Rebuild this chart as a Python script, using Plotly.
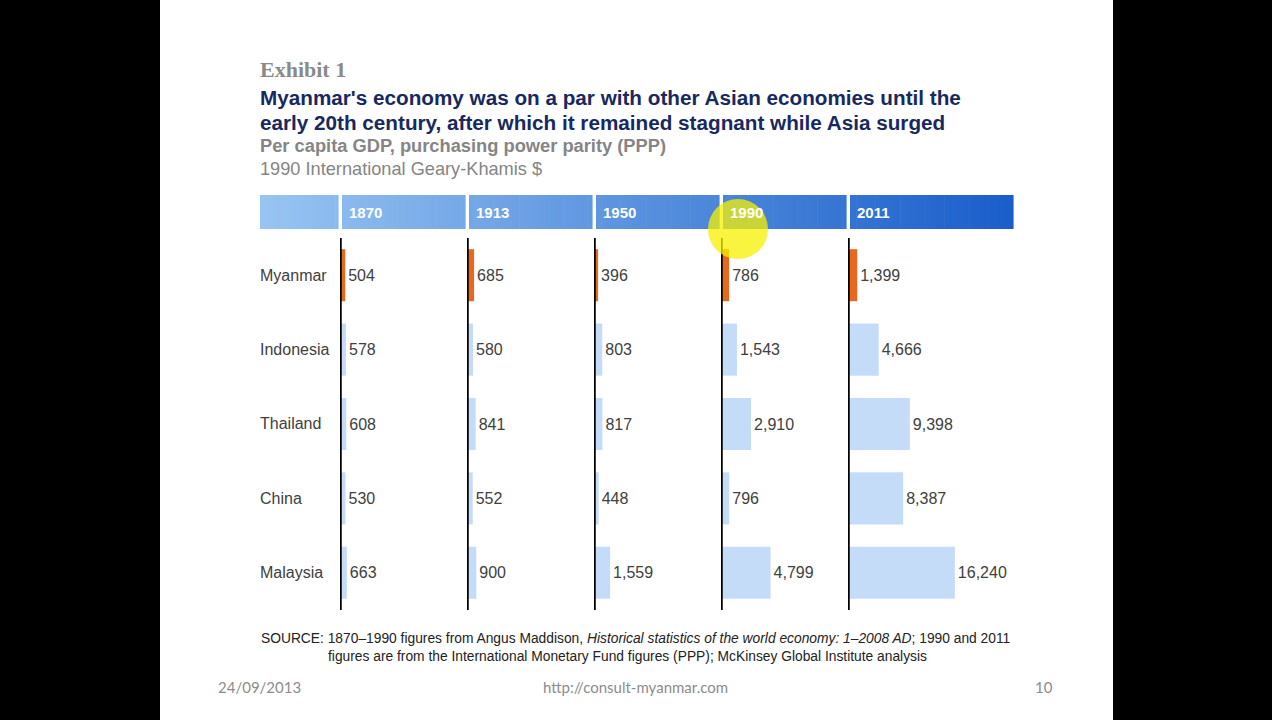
import plotly.graph_objects as go

# Per capita GDP, PPP, 1990 International Geary-Khamis $
years = ["1870", "1913", "1950", "1990", "2011"]
countries = ["Myanmar", "Indonesia", "Thailand", "China", "Malaysia"]
gdp_1870 = [504, 578, 608, 530, 663]
gdp_1913 = [685, 580, 841, 552, 900]
gdp_1950 = [396, 803, 817, 448, 1559]
gdp_1990 = [786, 1543, 2910, 796, 4799]
gdp_2011 = [1399, 4666, 9398, 8387, 16240]
all_values = [gdp_1870, gdp_1913, gdp_1950, gdp_1990, gdp_2011]

W, H = 1272, 720


def px(x):
    return x / W


def py(y):
    return 1 - y / H


ORANGE = "#e8691e"
LIGHT = "#c5dcf8"
GREY_TXT = "#404040"

# left edge (px) of every year column, and its x range
col_left = [340, 467, 594, 721, 848]
col_width = 125
col_range = [12100, 12100, 12100, 12100, 19000]

fig = go.Figure()

for i, (yr, vals) in enumerate(zip(years, all_values)):
    n = "" if i == 0 else str(i + 1)
    fig.add_trace(go.Bar(
        x=vals, y=countries, orientation="h",
        xaxis="x" + n, yaxis="y",
        marker=dict(color=[ORANGE] + [LIGHT] * (len(vals) - 1), line=dict(width=0)),
        width=0.7,
        text=[f"{v:,}" for v in vals],
        textposition="outside", constraintext="none", cliponaxis=False,
        textfont=dict(family="Liberation Sans, Arial", size=16, color=GREY_TXT),
        hoverinfo="skip", showlegend=False,
    ))
    fig.layout["xaxis" + n] = dict(
        domain=[px(col_left[i]), px(col_left[i] + col_width)],
        range=[0, col_range[i]], visible=False, fixedrange=True,
        anchor="y",
    )

fig.update_layout(
    yaxis=dict(domain=[py(610), py(238)], range=[4.5, -0.5], type="category",
               categoryorder="array", categoryarray=countries,
               visible=False, fixedrange=True),
    width=W, height=H,
    margin=dict(l=0, r=0, t=0, b=0),
    paper_bgcolor="black", plot_bgcolor="rgba(0,0,0,0)",
    bargap=0.3,
)

shapes = []
# white slide
shapes.append(dict(type="rect", xref="paper", yref="paper", layer="below",
                   x0=px(160), x1=px(1113), y0=0, y1=1,
                   fillcolor="white", line=dict(width=0)))

# header band with gradient, split in segments
seg_edges = [(260, 338), (342, 465), (469, 592), (596, 719), (723, 846), (850, 1013)]
c0 = (0x98, 0xc5, 0xf2)
c1 = (0x1a, 0x5e, 0xcb)
x_start, x_end = 260, 1013
steps = 120
for a, b in seg_edges:
    xs = a
    step = (x_end - x_start) / steps
    while xs < b:
        xe = min(b, xs + step)
        t = ((xs + xe) / 2 - x_start) / (x_end - x_start)
        col = "rgb({},{},{})".format(*[int(c0[j] + (c1[j] - c0[j]) * t) for j in range(3)])
        shapes.append(dict(type="rect", xref="paper", yref="paper", layer="below",
                           x0=px(xs), x1=px(xe + 0.6), y0=py(229), y1=py(195),
                           fillcolor=col, line=dict(width=0)))
        xs = xe

# vertical axis lines per column
for i in range(len(years)):
    n = "" if i == 0 else str(i + 1)
    shapes.append(dict(type="line", xref="x" + n, yref="paper", layer="above",
                       x0=0, x1=0, y0=py(610), y1=py(238),
                       line=dict(color="black", width=3.5)))

# cursor highlight on the slide
shapes.append(dict(type="circle", xref="paper", yref="paper", layer="above",
                   x0=px(708), x1=px(768), y0=py(259), y1=py(199),
                   fillcolor="rgba(245,240,0,0.75)", line=dict(width=0)))

fig.update_layout(shapes=shapes)

ann = []
# header year labels
for i, yr in enumerate(years):
    ann.append(dict(text=f"<b>{yr}</b>", x=px(col_left[i] + 7), y=py(212),
                    xref="paper", yref="paper", xanchor="left", yanchor="middle",
                    showarrow=False,
                    font=dict(family="Liberation Sans, Arial", size=15, color="white")))

# country labels
for c in countries:
    ann.append(dict(text=c, x=px(258), y=c, xref="paper", yref="y",
                    xanchor="left", yanchor="middle", showarrow=False,
                    font=dict(family="Liberation Sans, Arial", size=16, color=GREY_TXT)))

ann.append(dict(text="<b>Exhibit 1</b>", x=px(258), y=py(69), xref="paper", yref="paper",
                xanchor="left", yanchor="middle", showarrow=False,
                font=dict(family="Liberation Serif, serif", size=22, color="#8a8a8a")))
ann.append(dict(text="<b>Myanmar's economy was on a par with other Asian economies until the</b>",
                x=px(258), y=py(98), xref="paper", yref="paper",
                xanchor="left", yanchor="middle", showarrow=False,
                font=dict(family="Liberation Sans, Arial", size=20.7, color="#17295e")))
ann.append(dict(text="<b>early 20th century, after which it remained stagnant while Asia surged</b>",
                x=px(258), y=py(122), xref="paper", yref="paper",
                xanchor="left", yanchor="middle", showarrow=False,
                font=dict(family="Liberation Sans, Arial", size=20.7, color="#17295e")))
ann.append(dict(text="<b>Per capita GDP, purchasing power parity (PPP)</b>",
                x=px(258), y=py(146), xref="paper", yref="paper",
                xanchor="left", yanchor="middle", showarrow=False,
                font=dict(family="Liberation Sans, Arial", size=18.3, color="#858585")))
ann.append(dict(text="1990 International Geary-Khamis $",
                x=px(258), y=py(169), xref="paper", yref="paper",
                xanchor="left", yanchor="middle", showarrow=False,
                font=dict(family="Liberation Sans, Arial", size=18.2, color="#858585")))

src_font = dict(family="Liberation Sans Narrow, Liberation Sans, Arial", size=13.8, color="#222222")
ann.append(dict(text="SOURCE: 1870–1990 figures from Angus Maddison, "
                     "<i>Historical statistics of the world economy: 1–2008 AD</i>; 1990 and 2011",
                x=px(259), y=py(638), xref="paper", yref="paper",
                xanchor="left", yanchor="middle", showarrow=False, font=src_font))
ann.append(dict(text="figures are from the International Monetary Fund figures (PPP); "
                     "McKinsey Global Institute analysis",
                x=px(326), y=py(656), xref="paper", yref="paper",
                xanchor="left", yanchor="middle", showarrow=False, font=src_font))

foot_font = dict(family="Lato, Open Sans, sans-serif", size=15, color="#8c8c8c")
ann.append(dict(text="24/09/2013", x=px(216), y=py(687), xref="paper", yref="paper",
                xanchor="left", yanchor="middle", showarrow=False, font=foot_font))
ann.append(dict(text="http://consult-myanmar.com", x=px(635), y=py(687), xref="paper", yref="paper",
                xanchor="center", yanchor="middle", showarrow=False, font=foot_font))
ann.append(dict(text="10", x=px(1055), y=py(687), xref="paper", yref="paper",
                xanchor="right", yanchor="middle", showarrow=False, font=foot_font))

fig.update_layout(annotations=ann)

# drop the page margin so the figure fills the window
fig.write_html("out.html", config={"displayModeBar": False},
               post_script="document.body.style.margin='0px';document.body.style.background='black';")
